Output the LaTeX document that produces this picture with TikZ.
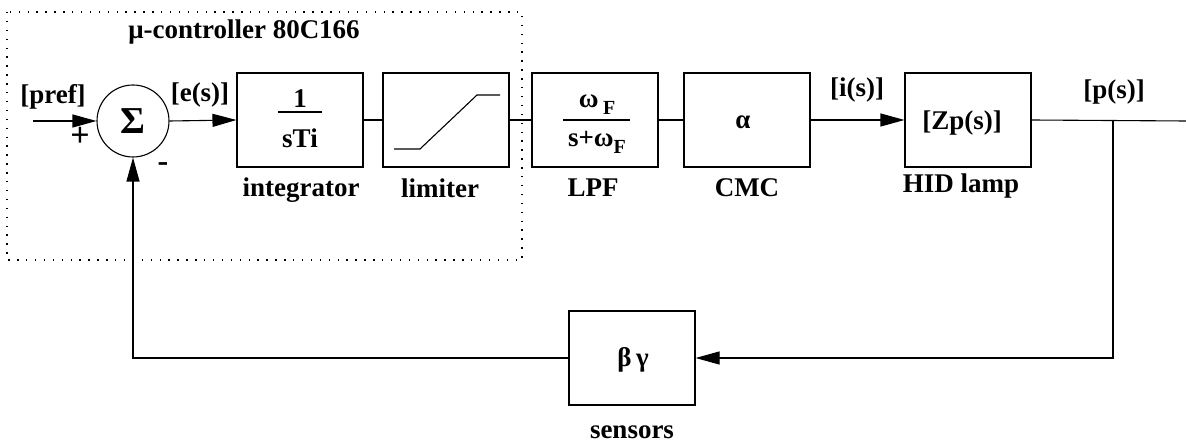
\documentclass[tikz,border=0pt]{standalone}
\usepackage{fontspec}
\setmainfont{Liberation Serif}
\usetikzlibrary{arrows.meta}
\begin{document}
\begin{tikzpicture}[x=1pt,y=-1pt,
  font=\fontsize{27}{31}\selectfont\bfseries,
  line width=1.1pt,
  blk/.style={draw, minimum width=126pt, minimum height=94pt, inner sep=0pt},
  lbl/.style={inner sep=0pt, anchor=center},
  arr/.style={-{Triangle[length=24pt,width=13pt]}},
  dotbox/.style={line width=1.4pt, dash pattern=on 1.4pt off 7.5pt}]
\useasboundingbox (0,0) rectangle (1186,443);
% controller frame
\draw[dotbox] (7,12) rectangle (522,260);
\node[lbl] (ctl) at (244,32) {μ-controller 80C166};
% blocks
\node[draw, circle, minimum size=72pt, inner sep=0pt] (sum) at (133,121) {\fontsize{38}{38}\selectfont Σ};
\node[blk] (integ) at (300,120) {};
\node[blk] (lim) at (446,120) {};
\node[blk] (lpf) at (595,120) {};
\node[blk] (cmc) at (747,120) {};
\node[blk] (hid) at (968,120) {};
\node[blk] (sens) at (632,358) {};
% block contents
\node[lbl] (one) at (300,99) {1};
\draw (278,112) -- (322,112);
\node[lbl] (sti) at (300,138) {sTi};
\draw (394,149) -- (420,149) -- (477,95) -- (500,95);
\node[lbl] (num) at (597,105) {ω\,\raisebox{-7pt}{\fontsize{20}{20}\selectfont F}};
\draw (563,120) -- (630,120);
\node[lbl] (den) at (597,142) {s+ω\raisebox{-7pt}{\fontsize{20}{20}\selectfont F}};
\node[lbl] (alpha) at (743,122) {α};
\node[lbl] (zp) at (962,123) {[Zp(s)]};
\node[lbl] (bg) at (633,360) {β\,γ};
% block captions
\node[lbl] (tinteg) at (301,190) {integrator};
\node[lbl] (tlim) at (440,188) {limiter};
\node[lbl] (tlpf) at (593,188) {LPF};
\node[lbl] (tcmc) at (747,188) {CMC};
\node[lbl] (thid) at (961,186) {HID lamp};
\node[lbl] (tsens) at (632,432) {sensors};
% signal labels
\node[lbl] (pref) at (53,97) {[pref]};
\node[lbl] (plus) at (80,137) {\fontsize{34}{34}\selectfont +};
\node[lbl] (minus) at (163,167) {\fontsize{32}{32}\selectfont -};
\node[lbl] (es) at (200,95) {[e(s)]};
\node[lbl] (is) at (857,90) {[i(s)]};
\node[lbl] (ps) at (1114,92) {[p(s)]};
% coordinates
\coordinate (in) at (33,121);
\coordinate (out) at (1186,121);
\coordinate (br) at (1113,121);
\coordinate (fb) at (1113,358);
% connectors
\draw[arr] (in) -- (sum.west);
\draw[arr] (sum.east) -- (integ.west);
\draw (integ.east) -- (lim.west);
\draw (lim.east) -- (lpf.west);
\draw (lpf.east) -- (cmc.west);
\draw[arr] (cmc.east) -- (hid.west);
\draw (hid.east) -- (out);
\draw[arr] (br) -- (fb) -- (sens.east);
\draw[arr] (sens.west) -| (sum.south);
\end{tikzpicture}
\end{document}
